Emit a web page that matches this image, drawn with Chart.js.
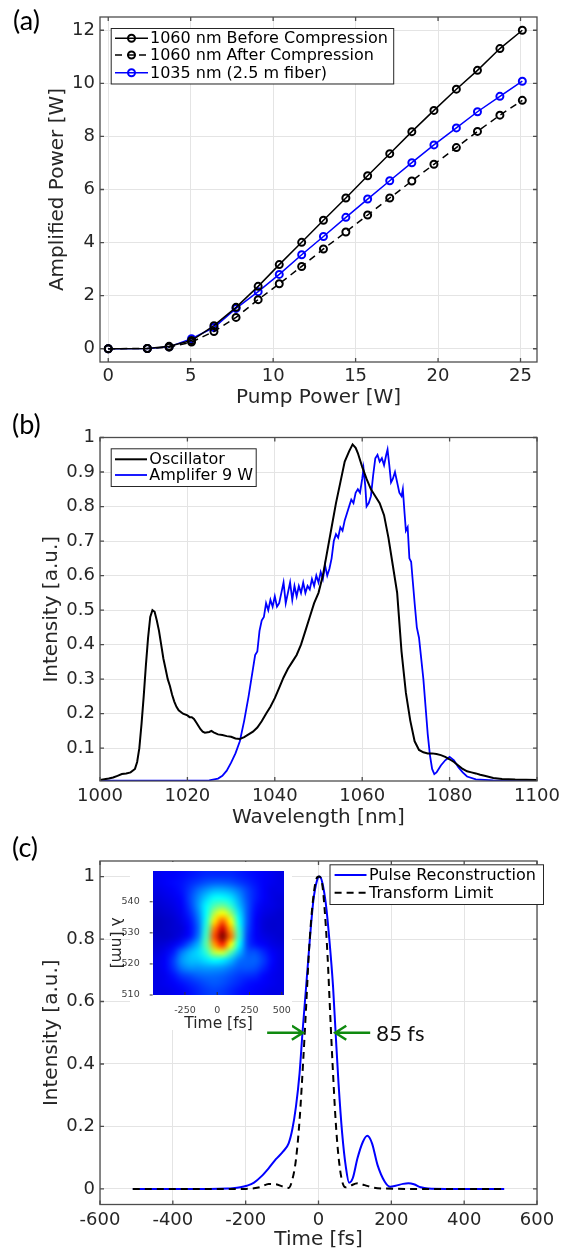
<!DOCTYPE html>
<html>
<head>
<meta charset="utf-8">
<script src="https://cdn.jsdelivr.net/npm/chart.js@4.4.1/dist/chart.umd.min.js"></script>
<style>
html, body { margin: 0; padding: 0; background: #fff; }
#wrap { position: relative; width: 569px; height: 1254px; overflow: hidden; }
canvas { position: absolute; }
</style>
</head>
<body>
<div id="wrap">
  <canvas id="chartA" width="569" height="410" style="left:0px;top:0px"></canvas>
  <canvas id="chartB" width="569" height="422" style="left:0px;top:410px"></canvas>
  <canvas id="chartC" width="569" height="422" style="left:0px;top:832px"></canvas>
  <canvas id="inset" width="195" height="175" style="left:100px;top:860px"></canvas>
</div>
<script>
// (a) amplifier output vs pump
const pumpPower = [0, 2.37, 3.69, 5.05, 6.41, 7.75, 9.09, 10.37, 11.73, 13.05, 14.41, 15.73, 17.07, 18.41, 19.75, 21.11, 22.39, 23.75, 25.11];
const before1060 = [0, 0.01, 0.09, 0.31, 0.87, 1.56, 2.35, 3.17, 4.01, 4.84, 5.68, 6.52, 7.35, 8.18, 8.98, 9.78, 10.49, 11.31, 12.0];
const after1060 = [0, 0.01, 0.06, 0.25, 0.65, 1.18, 1.85, 2.45, 3.10, 3.76, 4.40, 5.04, 5.68, 6.32, 6.95, 7.58, 8.19, 8.80, 9.36];
const fiber1035 = [0, 0.01, 0.07, 0.38, 0.80, 1.52, 2.15, 2.80, 3.54, 4.23, 4.95, 5.64, 6.33, 7.01, 7.68, 8.32, 8.93, 9.51, 10.08];
const ticksAx = [0, 5, 10, 15, 20, 25];
const ticksAy = [0, 2, 4, 6, 8, 10, 12];

// (b) spectra
const oscWl = [1000, 1001, 1002, 1003, 1004, 1005, 1006, 1007, 1008, 1008.5, 1009, 1009.5, 1010, 1010.5, 1011, 1011.5, 1012, 1012.5, 1013, 1013.5, 1014, 1014.5, 1015, 1015.5, 1016, 1016.5, 1017, 1017.5, 1018, 1019, 1020, 1020.5, 1021, 1021.5, 1022, 1022.5, 1023, 1023.5, 1024, 1025, 1025.5, 1026, 1027, 1028, 1029, 1030, 1031, 1032, 1033, 1034, 1035, 1036, 1037, 1038, 1039, 1040, 1041, 1042, 1043, 1044, 1045, 1046, 1047, 1048, 1049, 1050, 1051, 1052, 1053, 1054, 1055, 1056, 1057, 1057.8, 1058.5, 1059, 1060, 1061, 1062, 1063, 1064, 1065, 1066, 1067, 1068, 1069, 1070, 1071, 1072, 1073, 1074, 1075, 1076, 1077, 1078, 1079, 1080, 1081, 1082, 1083, 1084, 1085, 1086, 1087, 1088, 1090, 1092, 1095, 1100];
const oscInt = [0.008, 0.01, 0.012, 0.015, 0.02, 0.025, 0.027, 0.03, 0.04, 0.06, 0.1, 0.17, 0.25, 0.34, 0.42, 0.48, 0.5, 0.495, 0.47, 0.44, 0.4, 0.36, 0.33, 0.3, 0.28, 0.255, 0.235, 0.22, 0.21, 0.2, 0.195, 0.19, 0.19, 0.185, 0.175, 0.165, 0.155, 0.148, 0.145, 0.147, 0.15, 0.146, 0.14, 0.138, 0.135, 0.133, 0.128, 0.127, 0.132, 0.14, 0.148, 0.16, 0.178, 0.2, 0.22, 0.245, 0.275, 0.305, 0.33, 0.35, 0.37, 0.4, 0.44, 0.48, 0.52, 0.55, 0.6, 0.67, 0.74, 0.81, 0.87, 0.93, 0.96, 0.98, 0.97, 0.955, 0.915, 0.88, 0.85, 0.83, 0.81, 0.775, 0.71, 0.63, 0.55, 0.38, 0.26, 0.18, 0.12, 0.095, 0.088, 0.085, 0.085, 0.083, 0.08, 0.075, 0.068, 0.06, 0.05, 0.04, 0.033, 0.03, 0.027, 0.023, 0.02, 0.014, 0.011, 0.009, 0.008];
const ampWl = [1000, 1010, 1020, 1025, 1027, 1028, 1029, 1030, 1031, 1032, 1033, 1034, 1034.5, 1035, 1035.5, 1036, 1036.5, 1037, 1037.5, 1038, 1038.5, 1039, 1039.5, 1040, 1040.5, 1041, 1041.5, 1042, 1042.5, 1043, 1043.5, 1044, 1044.5, 1045, 1045.5, 1046, 1046.5, 1047, 1047.5, 1048, 1048.5, 1049, 1049.5, 1050, 1050.5, 1051, 1051.5, 1052, 1052.5, 1053, 1053.5, 1054, 1054.5, 1055, 1055.5, 1056, 1056.5, 1057, 1057.5, 1058, 1058.5, 1059, 1059.5, 1060, 1060.3, 1060.7, 1061, 1061.5, 1062, 1062.5, 1063, 1063.5, 1064, 1064.5, 1065, 1065.5, 1065.8, 1066.2, 1066.6, 1067, 1067.5, 1068, 1068.5, 1069, 1069.3, 1069.7, 1070, 1070.4, 1070.8, 1071.2, 1071.6, 1072, 1072.5, 1073, 1073.5, 1074, 1074.5, 1075, 1075.5, 1076, 1076.5, 1077, 1077.5, 1078, 1079, 1080, 1081, 1082, 1083, 1084, 1086, 1090, 1100];
const ampInt = [0.006, 0.006, 0.006, 0.007, 0.012, 0.02, 0.035, 0.058, 0.085, 0.12, 0.18, 0.25, 0.29, 0.33, 0.37, 0.38, 0.44, 0.47, 0.48, 0.52, 0.5, 0.53, 0.51, 0.54, 0.51, 0.52, 0.55, 0.58, 0.52, 0.55, 0.58, 0.53, 0.57, 0.54, 0.57, 0.55, 0.58, 0.55, 0.57, 0.56, 0.59, 0.57, 0.6, 0.58, 0.61, 0.59, 0.63, 0.6, 0.62, 0.65, 0.7, 0.72, 0.71, 0.74, 0.73, 0.76, 0.78, 0.8, 0.82, 0.81, 0.84, 0.85, 0.84, 0.88, 0.91, 0.86, 0.8, 0.81, 0.83, 0.89, 0.94, 0.95, 0.93, 0.94, 0.92, 0.95, 0.965, 0.92, 0.87, 0.88, 0.9, 0.87, 0.84, 0.83, 0.85, 0.78, 0.73, 0.74, 0.65, 0.64, 0.58, 0.52, 0.45, 0.42, 0.36, 0.3, 0.22, 0.14, 0.08, 0.04, 0.025, 0.03, 0.04, 0.05, 0.065, 0.075, 0.065, 0.045, 0.03, 0.018, 0.01, 0.007, 0.006];
const ticksBx = [1000, 1020, 1040, 1060, 1080, 1100];
const ticksBy = [0.1, 0.2, 0.3, 0.4, 0.5, 0.6, 0.7, 0.8, 0.9, 1];

// (c) temporal profile
const pulseT = [-510, -400, -300, -250, -236, -215, -197, -177, -157, -137, -117, -97, -82, -72, -62, -52, -44, -34, -24, -14, -4, 3, 10, 20, 30, 40, 47, 55, 65, 75, 84, 94, 107, 122, 134, 147, 162, 182, 197, 212, 232, 247, 262, 281, 301, 350, 420, 510];
const pulseI = [0, 0, 0, 0.001, 0.002, 0.005, 0.01, 0.02, 0.04, 0.066, 0.095, 0.12, 0.146, 0.19, 0.263, 0.37, 0.5, 0.647, 0.796, 0.924, 0.988, 1.0, 0.983, 0.914, 0.796, 0.647, 0.5, 0.338, 0.178, 0.071, 0.02, 0.034, 0.098, 0.151, 0.17, 0.146, 0.077, 0.023, 0.007, 0.01, 0.016, 0.018, 0.015, 0.005, 0.001, 0, 0, 0];
const tlT = [-510, -400, -300, -200, -177, -157, -137, -117, -97, -82, -72, -62, -52, -42, -34, -26, -17, -7, 1, 10, 17, 25, 32, 39, 47, 55, 64, 74, 87, 107, 127, 152, 182, 250, 350, 510];
const tlI = [0, 0, 0, 0, 0.002, 0.007, 0.016, 0.015, 0.007, 0.003, 0.029, 0.093, 0.22, 0.41, 0.583, 0.764, 0.903, 0.988, 1.0, 0.978, 0.893, 0.743, 0.562, 0.391, 0.22, 0.103, 0.029, 0.005, 0.01, 0.018, 0.012, 0.004, 0.001, 0, 0, 0];
const ticksCx = [-600, -400, -200, 0, 200, 400, 600];
const ticksCy = [0, 0.2, 0.4, 0.6, 0.8, 1];
const fwhmFrom = [-141, 142];
const fwhmTo = [-43, 46];
const fwhmLevel = 0.5;
const fwhmText = '85 fs';

// inset FROG trace, rows from 550 nm down to 510 nm, columns -500..520 fs
const heatTime = [-500, 520];
const heatLambda = [550, 510];
const heatRows = [
  [0.11, 0.12, 0.12, 0.13, 0.14, 0.15, 0.16, 0.16, 0.16, 0.16, 0.15, 0.14, 0.13, 0.12, 0.11, 0.10],
  [0.11, 0.12, 0.13, 0.14, 0.16, 0.18, 0.20, 0.21, 0.21, 0.20, 0.18, 0.16, 0.14, 0.12, 0.11, 0.10],
  [0.10, 0.11, 0.12, 0.14, 0.18, 0.23, 0.27, 0.30, 0.30, 0.28, 0.24, 0.19, 0.15, 0.12, 0.10, 0.10],
  [0.09, 0.10, 0.11, 0.13, 0.19, 0.26, 0.33, 0.38, 0.38, 0.35, 0.28, 0.20, 0.15, 0.12, 0.10, 0.09],
  [0.08, 0.09, 0.10, 0.12, 0.18, 0.27, 0.37, 0.45, 0.48, 0.42, 0.31, 0.21, 0.14, 0.11, 0.10, 0.09],
  [0.07, 0.08, 0.09, 0.11, 0.16, 0.25, 0.38, 0.55, 0.62, 0.52, 0.35, 0.21, 0.13, 0.10, 0.09, 0.08],
  [0.06, 0.07, 0.08, 0.10, 0.14, 0.23, 0.40, 0.65, 0.78, 0.62, 0.38, 0.21, 0.12, 0.09, 0.08, 0.08],
  [0.06, 0.07, 0.08, 0.09, 0.13, 0.22, 0.42, 0.75, 0.92, 0.70, 0.41, 0.20, 0.12, 0.09, 0.08, 0.08],
  [0.07, 0.07, 0.08, 0.10, 0.14, 0.24, 0.44, 0.80, 1.00, 0.76, 0.42, 0.19, 0.12, 0.10, 0.09, 0.08],
  [0.08, 0.09, 0.11, 0.15, 0.22, 0.30, 0.46, 0.72, 0.84, 0.62, 0.38, 0.19, 0.14, 0.12, 0.10, 0.09],
  [0.09, 0.11, 0.15, 0.24, 0.30, 0.34, 0.42, 0.56, 0.58, 0.46, 0.31, 0.21, 0.20, 0.16, 0.12, 0.10],
  [0.10, 0.12, 0.18, 0.27, 0.31, 0.32, 0.35, 0.38, 0.36, 0.31, 0.24, 0.22, 0.22, 0.18, 0.13, 0.10],
  [0.10, 0.12, 0.17, 0.24, 0.27, 0.27, 0.28, 0.28, 0.27, 0.24, 0.21, 0.21, 0.20, 0.16, 0.12, 0.10],
  [0.10, 0.11, 0.14, 0.18, 0.20, 0.22, 0.23, 0.23, 0.22, 0.20, 0.18, 0.17, 0.16, 0.13, 0.11, 0.10],
  [0.10, 0.11, 0.12, 0.14, 0.16, 0.18, 0.20, 0.21, 0.20, 0.18, 0.16, 0.14, 0.13, 0.12, 0.11, 0.10],
  [0.10, 0.10, 0.11, 0.12, 0.14, 0.16, 0.18, 0.19, 0.18, 0.16, 0.14, 0.13, 0.12, 0.11, 0.10, 0.10]
];
const insetTicksX = [-250, 0, 250, 500];
const insetTicksY = [510, 520, 530, 540];

const INK = '#262626';
const GRID = '#e4e4e4';
Chart.defaults.font.family = "'DejaVu Sans', sans-serif";
Chart.defaults.color = INK;

const pts = (xs, ys) => xs.map((x, i) => ({ x: x, y: ys[i] }));

// MATLAB style box with inward ticks on all four sides
const frame = {
  id: 'frame',
  afterDatasetsDraw(chart, args, o) {
    if (!o.on) return;
    const ctx = chart.ctx, a = chart.chartArea, sx = chart.scales.x, sy = chart.scales.y;
    ctx.save();
    ctx.strokeStyle = '#4d4d4d';
    ctx.lineWidth = 1.3;
    ctx.beginPath();
    sx.ticks.forEach(t => {
      const p = sx.getPixelForValue(t.value);
      ctx.moveTo(p, a.bottom); ctx.lineTo(p, a.bottom - 4);
      ctx.moveTo(p, a.top); ctx.lineTo(p, a.top + 4);
    });
    sy.ticks.forEach(t => {
      const p = sy.getPixelForValue(t.value);
      ctx.moveTo(a.left, p); ctx.lineTo(a.left + 4, p);
      ctx.moveTo(a.right, p); ctx.lineTo(a.right - 4, p);
    });
    ctx.stroke();
    ctx.strokeRect(a.left, a.top, a.right - a.left, a.bottom - a.top);
    ctx.restore();
  }
};

// boxed legend drawn from the datasets
const boxLegend = {
  id: 'boxLegend',
  afterDraw(chart, args, o) {
    if (!o.box) return;
    const ctx = chart.ctx;
    const b = o.box;
    ctx.save();
    ctx.fillStyle = '#fff';
    ctx.fillRect(b[0], b[1], b[2], b[3]);
    ctx.strokeStyle = INK;
    ctx.lineWidth = 1;
    ctx.strokeRect(b[0] + 0.5, b[1] + 0.5, b[2], b[3]);
    ctx.font = "16px 'DejaVu Sans', sans-serif";
    ctx.textBaseline = 'middle';
    chart.data.datasets.forEach((ds, i) => {
      const cy = o.rows[i];
      ctx.strokeStyle = ds.borderColor;
      ctx.lineWidth = ds.borderWidth;
      ctx.setLineDash(ds.borderDash || []);
      ctx.beginPath();
      ctx.moveTo(o.line[0], cy);
      ctx.lineTo(o.line[1], cy);
      ctx.stroke();
      ctx.setLineDash([]);
      if (ds.pointRadius) {
        ctx.lineWidth = ds.pointBorderWidth;
        ctx.beginPath();
        ctx.arc((o.line[0] + o.line[1]) / 2, cy, ds.pointRadius, 0, 2 * Math.PI);
        ctx.stroke();
      }
      ctx.fillStyle = '#000';
      ctx.fillText(ds.label, o.textX, cy + 1);
    });
    ctx.restore();
  }
};

const panelTag = {
  id: 'panelTag',
  afterDraw(chart, args, o) {
    if (!o.text) return;
    const ctx = chart.ctx;
    ctx.save();
    ctx.font = "27px Lato, 'Open Sans', sans-serif";
    ctx.fillStyle = '#000';
    ctx.textBaseline = 'middle';
    ctx.fillText(o.text, o.x, o.y);
    ctx.restore();
  }
};

Chart.register(frame, boxLegend, panelTag);

function scales(c) {
  return {
    x: {
      type: 'linear', min: c.xmin, max: c.xmax,
      afterBuildTicks: s => { s.ticks = c.xticks.map(v => ({ value: v })); },
      afterFit: s => { s.height = c.xh; },
      grid: { color: GRID, drawTicks: false },
      border: { display: false },
      ticks: { font: { size: 18 }, padding: c.xpad, maxRotation: 0, autoSkip: false, color: INK, callback: v => String(v) },
      title: { display: true, text: c.xtitle, font: { size: 20 }, padding: 0, color: INK }
    },
    y: {
      type: 'linear', min: c.ymin, max: c.ymax,
      afterBuildTicks: s => { s.ticks = c.yticks.map(v => ({ value: v })); },
      afterFit: s => { s.width = 100; },
      grid: { color: GRID, drawTicks: false },
      border: { display: false },
      ticks: { font: { size: 18 }, padding: 5, autoSkip: false, color: INK, callback: v => String(v) },
      title: { display: true, text: c.ytitle, font: { size: 20 }, padding: { top: c.ytpad, bottom: 0 }, color: INK }
    }
  };
}

// (a)
new Chart(document.getElementById('chartA'), {
  type: 'line',
  data: {
    datasets: [
      { label: '1060 nm Before Compression', data: pts(pumpPower, before1060), borderColor: '#000', borderWidth: 1.5,
        pointRadius: 3.5, pointBorderWidth: 2, pointBorderColor: '#000', pointBackgroundColor: 'rgba(0,0,0,0)', tension: 0 },
      { label: '1060 nm After Compression', data: pts(pumpPower, after1060), borderColor: '#000', borderWidth: 1.5, borderDash: [7, 5],
        pointRadius: 3.5, pointBorderWidth: 2, pointBorderColor: '#000', pointBackgroundColor: 'rgba(0,0,0,0)', tension: 0 },
      { label: '1035 nm (2.5 m fiber)', data: pts(pumpPower, fiber1035), borderColor: '#0000ff', borderWidth: 1.5,
        pointRadius: 3.5, pointBorderWidth: 2, pointBorderColor: '#0000ff', pointBackgroundColor: 'rgba(0,0,0,0)', tension: 0 }
    ]
  },
  options: {
    responsive: false, animation: false,
    layout: { padding: { top: 17, right: 32, bottom: 0, left: 0 } },
    scales: scales({ xmin: -0.5, xmax: 26, ymin: -0.5, ymax: 12.5, xticks: ticksAx, yticks: ticksAy, xh: 48, xpad: 4,
      xtitle: 'Pump Power [W]', ytitle: 'Amplified Power [W]', ytpad: 46 }),
    plugins: {
      legend: { display: false }, tooltip: { enabled: false },
      frame: { on: true },
      boxLegend: { box: [110.7, 28, 282.5, 55.5], rows: [38.3, 55, 72.7], line: [115, 148], textX: 150 },
      panelTag: { text: '(a)', x: 13, y: 21.5 }
    }
  }
});

// (b)
new Chart(document.getElementById('chartB'), {
  type: 'line',
  data: {
    datasets: [
      { label: 'Oscillator', data: pts(oscWl, oscInt), borderColor: '#000', borderWidth: 2, pointRadius: 0, tension: 0 },
      { label: 'Amplifer 9 W', data: pts(ampWl, ampInt), borderColor: '#0000ff', borderWidth: 1.8, pointRadius: 0, tension: 0 }
    ]
  },
  options: {
    responsive: false, animation: false,
    layout: { padding: { top: 27.5, right: 32, bottom: 2, left: 0 } },
    scales: scales({ xmin: 1000, xmax: 1100, ymin: 0.005, ymax: 1, xticks: ticksBx, yticks: ticksBy, xh: 49, xpad: 5,
      xtitle: 'Wavelength [nm]', ytitle: 'Intensity [a.u.]', ytpad: 40 }),
    plugins: {
      legend: { display: false }, tooltip: { enabled: false },
      frame: { on: true },
      boxLegend: { box: [110.7, 38.3, 145, 37.7], rows: [49.3, 65], line: [115, 147], textX: 149.3 },
      panelTag: { text: '(b)', x: 12, y: 15 }
    }
  }
});

// (c)
const fwhmArrows = {
  id: 'fwhmArrows',
  afterDatasetsDraw(chart) {
    const ctx = chart.ctx, sx = chart.scales.x, sy = chart.scales.y;
    const py = sy.getPixelForValue(fwhmLevel);
    ctx.save();
    ctx.strokeStyle = '#0f8a0f';
    ctx.lineWidth = 2.5;
    ctx.lineCap = 'butt';
    fwhmFrom.forEach((f, i) => {
      const x0 = sx.getPixelForValue(f), x1 = sx.getPixelForValue(fwhmTo[i]);
      const dir = x1 > x0 ? 1 : -1;
      ctx.beginPath();
      ctx.moveTo(x0, py); ctx.lineTo(x1 - dir * 1.5, py);
      ctx.moveTo(x1 - dir * 11, py - 7); ctx.lineTo(x1, py); ctx.lineTo(x1 - dir * 11, py + 7);
      ctx.stroke();
    });
    ctx.font = "22px Lato, 'Open Sans', sans-serif";
    ctx.fillStyle = '#111';
    ctx.textBaseline = 'middle';
    ctx.fillText(fwhmText, sx.getPixelForValue(fwhmFrom[1]) + 6, py + 1);
    ctx.restore();
  }
};

new Chart(document.getElementById('chartC'), {
  type: 'line',
  data: {
    datasets: [
      { label: 'Pulse Reconstruction', data: pts(pulseT, pulseI), borderColor: '#0000ff', borderWidth: 2, pointRadius: 0,
        cubicInterpolationMode: 'monotone', order: 1 },
      { label: 'Transform Limit', data: pts(tlT, tlI), borderColor: '#000', borderWidth: 2, borderDash: [7, 5], pointRadius: 0,
        cubicInterpolationMode: 'monotone', order: 0 }
    ]
  },
  options: {
    responsive: false, animation: false,
    layout: { padding: { top: 29, right: 32, bottom: 2, left: 0 } },
    scales: scales({ xmin: -600, xmax: 600, ymin: -0.05, ymax: 1.05, xticks: ticksCx, yticks: ticksCy, xh: 47.5, xpad: 5,
      xtitle: 'Time [fs]', ytitle: 'Intensity [a.u.]', ytpad: 40 }),
    plugins: {
      legend: { display: false }, tooltip: { enabled: false },
      frame: { on: true },
      boxLegend: { box: [329.5, 32.3, 213.5, 39.7], rows: [43, 60.7], line: [334.6, 366.5], textX: 369 },
      panelTag: { text: '(c)', x: 12, y: 16 }
    }
  },
  plugins: [fwhmArrows]
});

// inset
function jet(v) {
  const c = t => Math.round(255 * Math.max(0, Math.min(1, t)));
  return [c(1.5 - Math.abs(4 * v - 3)), c(1.5 - Math.abs(4 * v - 2)), c(1.5 - Math.abs(4 * v - 1))];
}

const heatmap = {
  id: 'heatmap',
  beforeDraw(chart) {
    const ctx = chart.ctx;
    ctx.save();
    ctx.fillStyle = '#fff';
    ctx.fillRect(30, 2, 162, 168);
    ctx.restore();
  },
  beforeDatasetsDraw(chart) {
    const ctx = chart.ctx, sx = chart.scales.x, sy = chart.scales.y;
    const nr = heatRows.length, nc = heatRows[0].length;
    const off = document.createElement('canvas');
    off.width = nc; off.height = nr;
    const octx = off.getContext('2d');
    const img = octx.createImageData(nc, nr);
    heatRows.forEach((row, j) => row.forEach((v, i) => {
      const k = 4 * (j * nc + i), rgb = jet(v);
      img.data[k] = rgb[0]; img.data[k + 1] = rgb[1]; img.data[k + 2] = rgb[2]; img.data[k + 3] = 255;
    }));
    octx.putImageData(img, 0, 0);
    const x0 = sx.getPixelForValue(heatTime[0]), x1 = sx.getPixelForValue(heatTime[1]);
    const y0 = sy.getPixelForValue(heatLambda[0]), y1 = sy.getPixelForValue(heatLambda[1]);
    ctx.save();
    ctx.imageSmoothingEnabled = true;
    ctx.imageSmoothingQuality = 'high';
    ctx.drawImage(off, x0, y0, x1 - x0, y1 - y0);
    ctx.restore();
  },
  afterDraw(chart) {
    const ctx = chart.ctx, a = chart.chartArea, sx = chart.scales.x, sy = chart.scales.y;
    ctx.save();
    ctx.strokeStyle = '#333';
    ctx.lineWidth = 1;
    ctx.beginPath();
    sx.ticks.forEach(t => { const p = sx.getPixelForValue(t.value); ctx.moveTo(p, a.bottom); ctx.lineTo(p, a.bottom - 3); });
    sy.ticks.forEach(t => { const p = sy.getPixelForValue(t.value); ctx.moveTo(a.left - 3, p); ctx.lineTo(a.left, p); });
    ctx.stroke();
    ctx.font = "15.5px 'DejaVu Sans', sans-serif";
    ctx.fillStyle = INK;
    ctx.textAlign = 'center';
    ctx.textBaseline = 'middle';
    ctx.translate(16, (a.top + a.bottom) / 2 + 10);
    ctx.rotate(Math.PI / 2);
    ctx.fillText('λ [nm]', 0, 0);
    ctx.restore();
  }
};

new Chart(document.getElementById('inset'), {
  type: 'scatter',
  data: { datasets: [] },
  options: {
    responsive: false, animation: false,
    layout: { padding: { top: 4, right: 10.7, bottom: 2, left: 0 } },
    scales: {
      x: {
        type: 'linear', min: heatTime[0], max: heatTime[1],
        afterBuildTicks: s => { s.ticks = insetTicksX.map(v => ({ value: v })); },
        afterFit: s => { s.height = 38; },
        grid: { display: false }, border: { display: false },
        ticks: { font: { size: 9.5 }, padding: 2, color: '#404040', maxRotation: 0, autoSkip: false, callback: v => String(v) },
        title: { display: true, text: 'Time [fs]', font: { size: 15.5 }, padding: 0, color: INK }
      },
      y: {
        type: 'linear', min: heatLambda[1], max: heatLambda[0],
        afterBuildTicks: s => { s.ticks = insetTicksY.map(v => ({ value: v })); },
        afterFit: s => { s.width = 52.7; },
        grid: { display: false }, border: { display: false },
        ticks: { font: { size: 9.5 }, padding: 5, color: '#404040', autoSkip: false, callback: v => String(v) }
      }
    },
    plugins: { legend: { display: false }, tooltip: { enabled: false } }
  },
  plugins: [heatmap]
});
</script>
</body>
</html>
